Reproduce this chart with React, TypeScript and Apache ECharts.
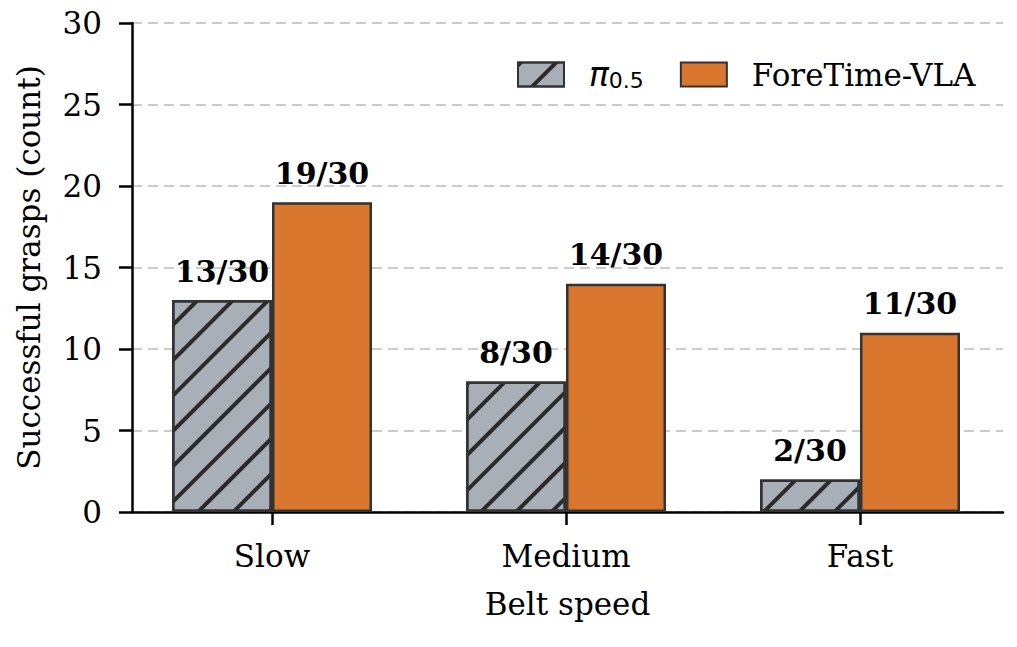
import { useEffect, useRef } from 'react'
import * as echarts from 'echarts'

const categories = ['Slow', 'Medium', 'Fast']
const piValues = [13, 8, 2]
const foreTimeValues = [19, 14, 11]
const totalTrials = 30
const yTicks = [0, 5, 10, 15, 20, 25, 30]

const SERIF = '"DejaVu Serif", serif'
const SANS = '"DejaVu Sans", sans-serif'
const EDGE = '#333333'

export default function App() {
  const ref = useRef<HTMLDivElement>(null)

  useEffect(() => {
    if (!ref.current) return
    const chart = echarts.init(ref.current, null, { renderer: 'svg' })

    const barLabel = {
      show: true,
      position: 'top' as const,
      distance: 14,
      fontFamily: SERIF,
      fontWeight: 'bold' as const,
      fontSize: 30,
      color: '#000',
      formatter: (p: any) => `${p.value[1]}/${totalTrials}`,
    }

    const option: echarts.EChartsOption = {
      animation: false,
      backgroundColor: '#fff',
      grid: { left: 132, right: 14, top: 23, bottom: 135 },
      legend: {
        left: 512,
        top: 53,
        icon: 'rect',
        itemWidth: 46,
        itemHeight: 24,
        itemGap: 36,
        selectedMode: false,
        textStyle: {
          fontFamily: SERIF,
          fontSize: 31,
          color: '#000',
          rich: {
            pi: { fontFamily: SANS, fontStyle: 'italic', fontSize: 33, color: '#000', padding: [0, 0, 0, 20] },
            sub: { fontFamily: SANS, fontSize: 22, color: '#000', verticalAlign: 'bottom', padding: [12, 0, 0, 0] },
            n: { fontFamily: SERIF, fontSize: 31, color: '#000', padding: [0, 0, 0, 20] },
          },
        },
        formatter: (name: string) => (name === 'pi' ? '{pi|π}{sub|0.5}' : `{n|${name}}`),
        data: ['pi', 'ForeTime-VLA'],
      },
      xAxis: {
        type: 'value',
        min: -0.4762,
        max: 2.4864,
        name: 'Belt speed',
        nameLocation: 'middle',
        nameGap: 76,
        nameTextStyle: { fontFamily: SERIF, fontSize: 31, color: '#000' },
        axisLine: { show: true, onZero: false, lineStyle: { color: '#000', width: 2.5 } },
        axisTick: { show: true, length: 13, customValues: [0, 1, 2], lineStyle: { color: '#000', width: 2.5 } },
        axisLabel: {
          customValues: [0, 1, 2],
          margin: 28,
          fontFamily: SERIF,
          fontSize: 31,
          color: '#000',
          formatter: (v: number) => categories[Math.round(v)] ?? '',
        },
        splitLine: { show: false },
      },
      yAxis: {
        type: 'value',
        min: 0,
        max: 30,
        interval: 5,
        name: 'Successful grasps (count)',
        nameLocation: 'middle',
        nameGap: 88,
        nameTextStyle: { fontFamily: SERIF, fontSize: 31, color: '#000' },
        axisLine: { show: true, onZero: false, lineStyle: { color: '#000', width: 2.5 } },
        axisTick: { show: true, length: 13, lineStyle: { color: '#000', width: 2.5 } },
        axisLabel: {
          margin: 30,
          fontFamily: SERIF,
          fontSize: 31,
          color: '#000',
          formatter: (v: number) => (yTicks.includes(v) ? String(v) : ''),
        },
        splitLine: { show: true, lineStyle: { color: '#cccccc', width: 1.8, type: [10, 6] } },
      },
      series: [
        {
          name: 'pi',
          type: 'bar',
          barWidth: 100,
          barGap: '0%',
          data: piValues.map((v, i) => [i, v]),
          itemStyle: {
            color: '#a9afb7',
            borderColor: EDGE,
            borderWidth: 2.5,
            decal: {
              symbol: 'rect',
              symbolSize: 1,
              color: '#2a2a2a',
              backgroundColor: 'rgba(0,0,0,0)',
              dashArrayX: [1, 0],
              dashArrayY: [4, 21],
              rotation: -Math.PI / 4,
            },
          },
          label: barLabel,
        },
        {
          name: 'ForeTime-VLA',
          type: 'bar',
          barWidth: 100,
          barGap: '0%',
          data: foreTimeValues.map((v, i) => [i, v]),
          itemStyle: { color: '#d9772e', borderColor: EDGE, borderWidth: 2.5 },
          label: barLabel,
        },
      ],
    }

    chart.setOption(option)
    return () => chart.dispose()
  }, [])

  return <div ref={ref} style={{ position: 'absolute', left: 0, top: 0, width: 1017, height: 647 }} />
}
